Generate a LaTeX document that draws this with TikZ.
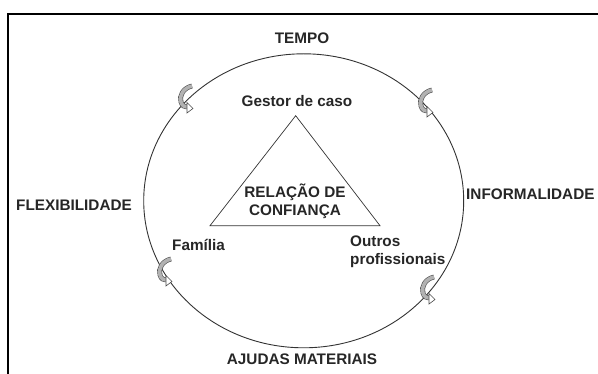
\documentclass[tikz,border=0pt]{standalone}
\usepackage{fontspec}
\setmainfont{Liberation Sans}
\begin{document}
\begin{tikzpicture}[x=1pt,y=-1pt,
  lbl/.style={font=\bfseries\fontsize{15.3}{18}\selectfont, inner sep=0pt, text=black!85},
  cycarrow/.pic={
    \draw[line width=0.6pt, black!70, double=black!30, double distance=3.6pt]
      (6,-13) .. controls (-3,-11) and (-7,-3) .. (-5,3) .. controls (-4,7) and (-1,8) .. (1,8);
    \filldraw[line width=0.6pt, draw=black!70, fill=white] (1,3.5) -- (7,9.5) -- (1,14) -- cycle;
  }]
\useasboundingbox (0,0) rectangle (598,374);
\draw[line width=2pt] (598,14) -- (8,14) -- (8,376);
\draw[line width=0.9pt, black!80] (303.7,200.8) ellipse [x radius=160, y radius=147];
\coordinate (apex) at (295.7,115.7);
\coordinate (bl) at (210,225.7);
\coordinate (br) at (380,225.7);
\draw[line width=0.7pt, black!80] (apex) -- (bl) -- (br) -- cycle;
\pic at (186,99) {cycarrow};
\pic at (426,103) {cycarrow};
\pic at (165,272) {cycarrow};
\pic at (428,290) {cycarrow};
\node[lbl] (tempo) at (302,38) {TEMPO};
\node[lbl] (gestor) at (297,101) {Gestor de caso};
\node[lbl, align=center] (rel) at (295,201) {RELAÇÃO DE\\CONFIANÇA};
\node[lbl, anchor=west] (flex) at (16,205) {FLEXIBILIDADE};
\node[lbl, anchor=west] (inf) at (466,194) {INFORMALIDADE};
\node[lbl, anchor=west] (fam) at (172,245) {Família};
\node[lbl, anchor=west, align=left] (outros) at (350,252) {Outros\\profissionais};
\node[lbl] (ajudas) at (302,359) {AJUDAS MATERIAIS};
\end{tikzpicture}
\end{document}
